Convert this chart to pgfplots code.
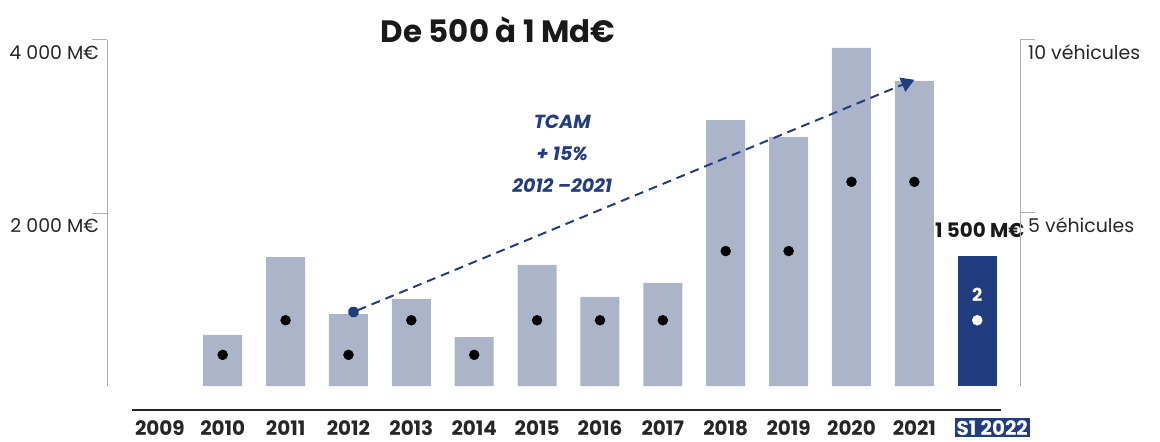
\documentclass[border=0pt]{standalone}
\usepackage{pgfplots}
\pgfplotsset{compat=1.18}
\usepackage{fontspec}
\setmainfont{Poppins}
\usetikzlibrary{arrows.meta}
\definecolor{barcol}{RGB}{172,180,202}
\definecolor{navy}{RGB}{33,61,128}
\definecolor{axgray}{RGB}{175,175,175}
\begin{document}
\begin{tikzpicture}
\useasboundingbox (0,0) rectangle (1160bp,442bp);
\begin{axis}[
  at={(107bp,56bp)}, anchor=south west,
  scale only axis, width=913bp, height=346bp,
  xmin=-0.84, xmax=13.68, ymin=0, ymax=4000,
  clip=false,
  axis y line*=left, axis x line*=bottom,
  x axis line style={draw=none},
  y axis line style={draw=axgray, line width=1pt},
  xtick={0,...,13},
  xticklabels={2009,2010,2011,2012,2013,2014,2015,2016,2017,2018,2019,2020,2021,{\hspace*{30bp}\setlength{\fboxsep}{2bp}\colorbox{navy}{\textcolor{white}{S1 2022}}}},
  xtick style={draw=none},
  xticklabel style={anchor=base, yshift=-49bp, font=\fontsize{20}{20}\selectfont\bfseries, text=black!85},
  ytick={2000,4000},
  yticklabels={2 000 M€,4 000 M€},
  ytick align=outside,
  major tick length=15bp,
  ytick style={draw=axgray, line width=1pt},
  yticklabel style={anchor=north east, inner sep=0pt, xshift=7bp, yshift=-5bp, font=\fontsize{19}{19}\selectfont, text=black!85},
]
\addplot[ybar, bar width=39bp, fill=barcol, draw=none] coordinates {
 (1,590) (2,1491) (3,832) (4,1006) (5,566) (6,1399) (7,1029) (8,1191)
 (9,3075) (10,2879) (11,3908) (12,3526)};
\addplot[ybar, bar width=39bp, fill=navy, draw=none] coordinates {(13,1500)};
\draw[black!85, line width=2.5pt] (axis cs:-0.45,-277) -- (axis cs:13.38,-277);
\draw[navy, line width=2pt, dash pattern=on 9bp off 6bp, {Circle[length=11bp]}-{Triangle[width=15bp,length=13bp]}] (axis cs:3,832) -- (axis cs:12.0,3540);
\node[navy, font=\fontsize{19}{32}\selectfont\bfseries\itshape, align=center] at (axis cs:6.4,2682) {TCAM\\+ 15\%\\2012 –2021};
\node[font=\fontsize{31}{31}\selectfont\bfseries, text=black!90] at (axis cs:5.38,4116) {De 500 à 1 Md€};
\node[anchor=east, inner sep=0pt, font=\fontsize{20}{20}\selectfont\bfseries, text=black!90] at (axis cs:13.75,1803) {1 500 M€};
\node[white, font=\fontsize{18}{18}\selectfont\bfseries] at (axis cs:13,1052) {2};
\end{axis}
\begin{axis}[
  at={(107bp,56bp)}, anchor=south west,
  scale only axis, width=913bp, height=346bp,
  xmin=-0.84, xmax=13.68, ymin=0, ymax=10,
  clip=false,
  axis y line*=right, axis x line=none,
  y axis line style={draw=axgray, line width=1pt},
  ytick={5,10},
  yticklabels={5 véhicules,10 véhicules},
  ytick align=outside,
  major tick length=15bp,
  ytick style={draw=axgray, line width=1pt},
  yticklabel style={anchor=north west, inner sep=0pt, xshift=-7bp, yshift=-5bp, font=\fontsize{19}{19}\selectfont, text=black!85},
]
\addplot[only marks, mark=*, mark size=5bp, black] coordinates {
 (1,0.9) (2,1.9) (3,0.9) (4,1.9) (5,0.9) (6,1.9) (7,1.9) (8,1.9)
 (9,3.9) (10,3.9) (11,5.9) (12,5.9)};
\addplot[only marks, mark=*, mark size=5bp, white] coordinates {(13,1.9)};
\end{axis}
\end{tikzpicture}
\end{document}
